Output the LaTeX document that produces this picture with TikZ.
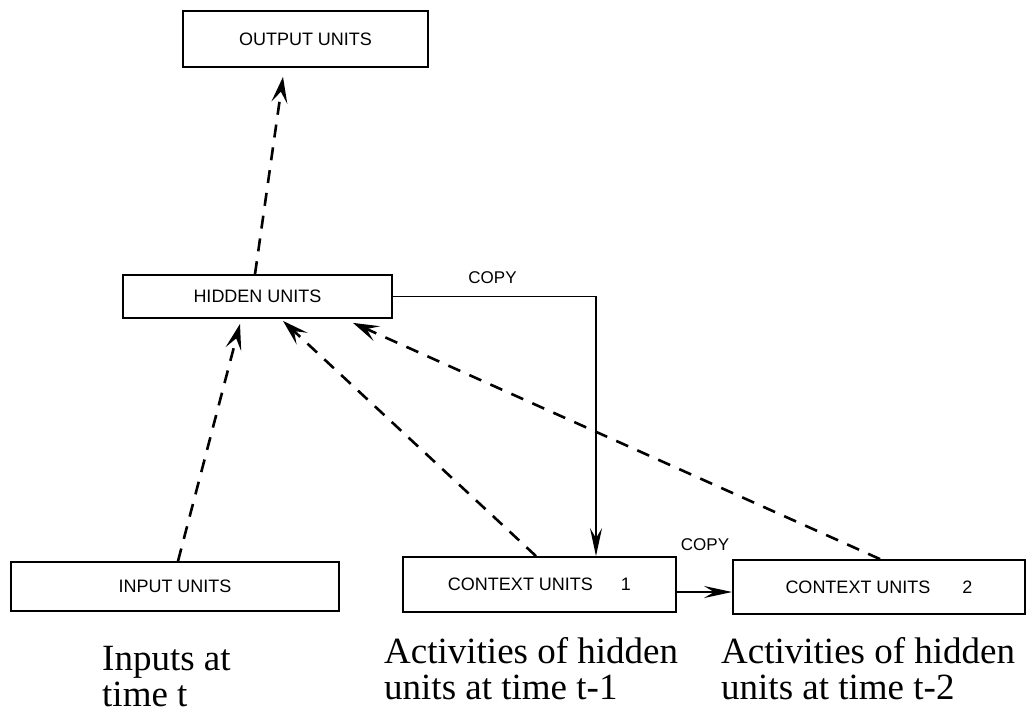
\documentclass[tikz,border=0pt]{standalone}
\usepackage{fontspec}
\setmainfont{Liberation Serif}
\newfontfamily\labelfont{Liberation Sans}
\usetikzlibrary{arrows.meta}

\begin{document}
\begin{tikzpicture}[x=1pt,y=-1pt,
  unitbox/.style={draw, line width=1.8pt, inner sep=0pt,
    font=\labelfont\fontsize{18}{20}\selectfont},
  feed/.style={line width=2.6pt, dash pattern=on 13pt off 10pt,
    -{Stealth[length=26pt,width=16pt,inset=11pt]}},
  copyline/.style={line width=1.6pt,
    -{Stealth[length=28pt,width=12pt,inset=10pt]}},
  tag/.style={font=\labelfont\fontsize{17}{19}\selectfont, inner sep=0pt},
  caption/.style={font=\fontsize{37}{36}\selectfont, align=left,
    inner sep=0pt, anchor=base west}]
\useasboundingbox (0,0) rectangle (1028,715);

% layers of units
\node[unitbox, minimum width=245pt, minimum height=56pt] (out) at (305.5,39) {OUTPUT UNITS};
\node[unitbox, minimum width=269pt, minimum height=43pt] (hid) at (257.5,296.5) {HIDDEN UNITS};
\node[unitbox, minimum width=328pt, minimum height=49pt] (inp) at (175,586.5) {INPUT UNITS};
\node[unitbox, minimum width=273pt, minimum height=55pt] (ctx1) at (539.5,584.5) {CONTEXT UNITS\hspace{28pt}1};
\node[unitbox, minimum width=292pt, minimum height=54pt] (ctx2) at (879,587) {CONTEXT UNITS\hspace{32pt}2};

% trainable (dashed) connections
\draw[feed] ([xshift=-2.5pt]hid.north) -- ([xshift=-22.5pt,yshift=-9pt]out.south);
\draw[feed] ([xshift=3pt]inp.north) -- ([xshift=-17.5pt,yshift=-5pt]hid.south);
\draw[feed] ([xshift=-3.5pt]ctx1.north) -- ([xshift=25.5pt,yshift=-2pt]hid.south);
\draw[feed] ([xshift=1pt]ctx2.north) -- ([xshift=95.5pt,yshift=-4pt]hid.south);

% fixed copy connections
\draw[copyline] (hid.east) -| ([xshift=56.5pt]ctx1.north);
\draw[copyline, line width=2.4pt] ([yshift=-7.5pt]ctx1.east) -- ([yshift=-5pt]ctx2.west);
\node[tag] (copyA) at (492.5,278) {COPY};
\node[tag] (copyB) at (705,545) {COPY};

% captions (anchored at the baseline of their last line)
\node[caption] (capIn) at (102,706) {Inputs at\\time t};
\node[caption] (capC1) at (384,699) {Activities of hidden\\units at time t-1};
\node[caption] (capC2) at (721,699) {Activities of hidden\\units at time t-2};
\end{tikzpicture}
\end{document}
